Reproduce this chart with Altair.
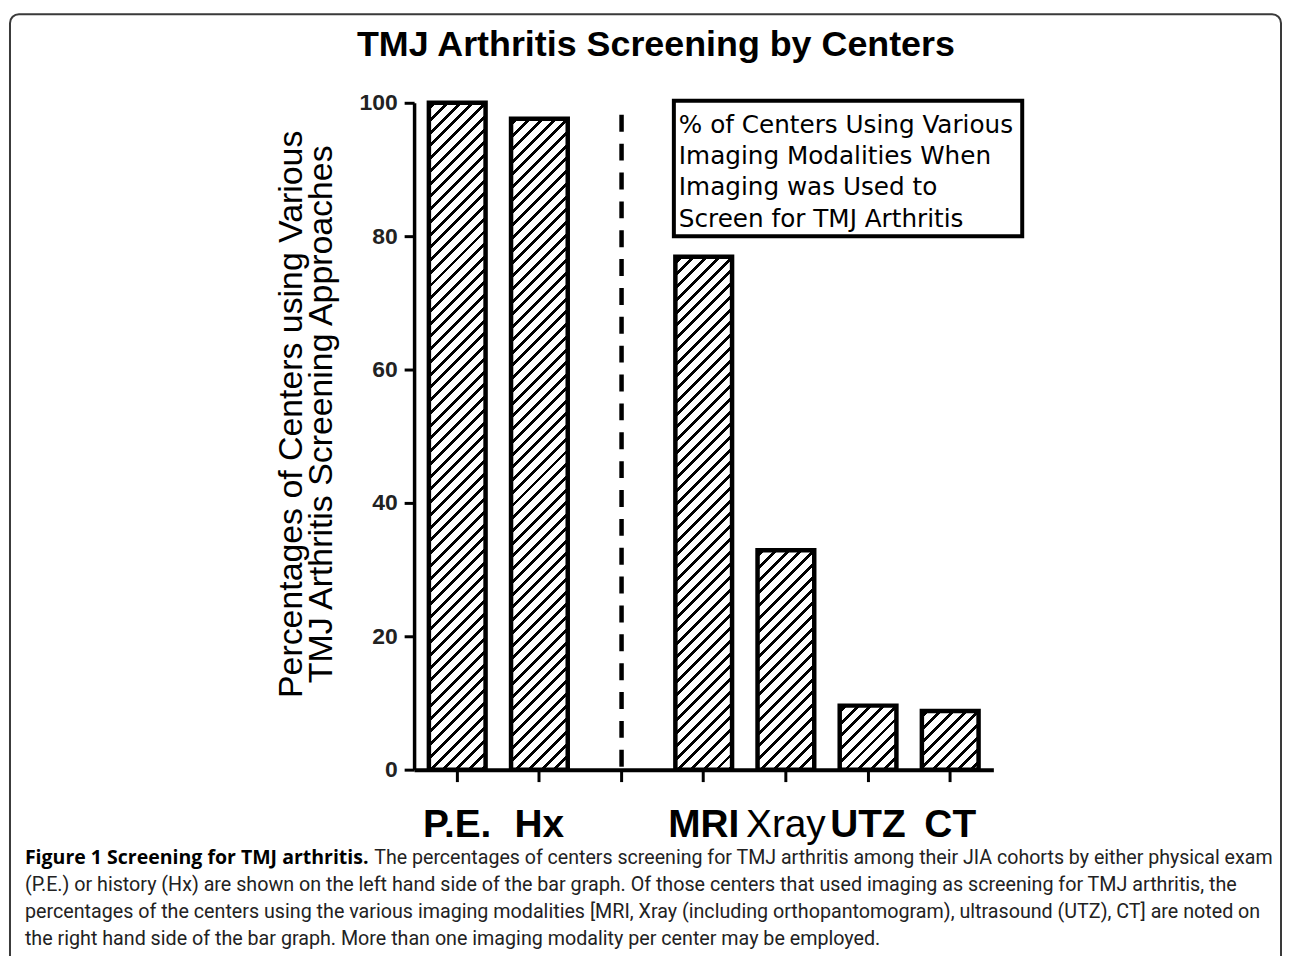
import altair as alt
import pandas as pd

# ---------------- data ----------------
TITLE = "TMJ Arthritis Screening by Centers"
CATEGORIES = ["P.E.", "Hx", " ", "MRI", "Xray", "UTZ", "CT"]
BAR_CATEGORIES = ["P.E.", "Hx", "MRI", "Xray", "UTZ", "CT"]
BAR_VALUES = [100.0, 97.6, 76.9, 32.9, 9.6, 8.8]
Y_TICKS = [0, 20, 40, 60, 80, 100]
SEPARATOR_CATEGORY = " "
SEPARATOR_TOP = 98.2
Y_TITLE = ["Percentages of Centers using Various", "TMJ Arthritis Screening Approaches"]
BOX_TEXT = ["% of Centers Using Various", "Imaging Modalities When",
            "Imaging was Used to", "Screen for TMJ Arthritis"]
CAPTION_BOLD = "Figure 1 Screening for TMJ arthritis."
CAPTION_FIRST_REST = ("The percentages of centers screening for TMJ arthritis among their JIA "
                      "cohorts by either physical exam")
CAPTION_LINES = [
    "(P.E.) or history (Hx) are shown on the left hand side of the bar graph. Of those centers "
    "that used imaging as screening for TMJ arthritis, the",
    "percentages of the centers using the various imaging modalities [MRI, Xray (including "
    "orthopantomogram), ultrasound (UTZ), CT] are noted on",
    "the right hand side of the bar graph. More than one imaging modality per center may be employed.",
]

# ---------------- layout / style ----------------
PLOT_W, PLOT_H = 582, 670
PAD_INNER, PAD_OUTER = 0.31, 0.18
STEP = PLOT_W / (len(CATEGORIES) - PAD_INNER + 2 * PAD_OUTER)
BAND_W = STEP * (1 - PAD_INNER)


def hatch(w, h, period=12.8, thick=4.0):
    """Diagonal '/' hatch as a hard-stop linear gradient for a w x h bar."""
    L = w + h
    stops = [alt.GradientStop(color="white", offset=0)]
    c = 4.0
    while c + thick < L:
        a = round(c / L, 6)
        b = round((c + thick) / L, 6)
        stops += [alt.GradientStop(color="white", offset=a),
                  alt.GradientStop(color="black", offset=a),
                  alt.GradientStop(color="black", offset=b),
                  alt.GradientStop(color="white", offset=b)]
        c += period
    stops.append(alt.GradientStop(color="white", offset=1))
    k = L / (w * w + h * h)
    return alt.LinearGradient(gradient="linear", stops=stops,
                              x1=0, y1=0, x2=round(w * k, 6), y2=round(h * k, 6))


bars = pd.DataFrame({"cat": BAR_CATEGORIES, "value": BAR_VALUES})
one = pd.DataFrame({"k": [0]})

x_scale = alt.Scale(domain=CATEGORIES, paddingInner=PAD_INNER, paddingOuter=PAD_OUTER)
y_scale = alt.Scale(domain=[0, 100], nice=False)

x_axis = alt.Axis(title=None, labelAngle=0, labelFont="Liberation Sans", labelFontSize=39,
                  labelFontWeight={"condition": {"test": "datum.value === 'Xray'",
                                                 "value": "normal"}, "value": "bold"},
                  labelColor="black", labelPadding=24, labelBaseline="top",
                  tickSize=12, tickWidth=3, tickColor="black", domainColor="black",
                  domainWidth=4, labelOverlap=False)
y_axis = alt.Axis(title=None, values=Y_TICKS, grid=False, labelFont="Liberation Sans",
                  labelFontSize=23, labelFontWeight="bold", labelColor="#222222",
                  labelPadding=7, tickSize=10, tickWidth=3, tickColor="black",
                  domainColor="black", domainWidth=3.5)

frame = alt.Chart(one).mark_rect(fillOpacity=0, stroke="#3a3a3a", strokeWidth=2,
                                 cornerRadius=9).encode(
    x=alt.value(-406), x2=alt.value(871), y=alt.value(-89), y2=alt.value(900))

bar_layers = []
for cat, val in zip(BAR_CATEGORIES, BAR_VALUES):
    h = val / 100 * PLOT_H
    bar_layers.append(
        alt.Chart(bars).transform_filter(alt.datum.cat == cat)
        .mark_bar(fill=hatch(BAND_W, h), stroke="black", strokeWidth=4.5)
        .encode(x=alt.X("cat:N", scale=x_scale, axis=x_axis),
                y=alt.Y("value:Q", scale=y_scale, axis=y_axis))
    )

sep = alt.Chart(pd.DataFrame({"cat": [SEPARATOR_CATEGORY], "top": [SEPARATOR_TOP],
                              "bottom": [0]})).mark_rule(
    strokeDash=[17, 12], strokeWidth=4.5, color="black").encode(
    x=alt.X("cat:N", scale=x_scale, axis=x_axis),
    y=alt.Y("top:Q", scale=y_scale, axis=y_axis),
    y2="bottom:Q")

box = alt.Chart(one).mark_rect(fill="white", stroke="black", strokeWidth=4).encode(
    x=alt.value(261), x2=alt.value(611), y=alt.value(-2), y2=alt.value(134))

box_text = alt.Chart(one).mark_text(align="left", baseline="alphabetic", font="DejaVu Sans",
                                    fontSize=24.8, lineHeight=31.5, color="black").encode(
    x=alt.value(266), y=alt.value(30), text=alt.value(BOX_TEXT))

title = alt.Chart(one).mark_text(align="center", baseline="alphabetic", font="Liberation Sans",
                                 fontSize=36, fontWeight="bold", color="black").encode(
    x=alt.value(243), y=alt.value(-47), text=alt.value(TITLE))

y_title = alt.Chart(one).mark_text(align="center", baseline="middle", angle=270,
                                   font="Liberation Sans", fontSize=34, lineHeight=31,
                                   color="black").encode(
    x=alt.value(-123), y=alt.value(313), text=alt.value(Y_TITLE))

CAP_FONT = "Roboto"
cap_layers = [
    alt.Chart(one).mark_text(align="left", baseline="alphabetic", font="Open Sans",
                             fontSize=19.6, fontWeight="bold", color="black").encode(
        x=alt.value(-391), y=alt.value(765), text=alt.value(CAPTION_BOLD)),
    alt.Chart(one).mark_text(align="left", baseline="alphabetic", font=CAP_FONT,
                             fontSize=19.7, color="#222222").encode(
        x=alt.value(-40), y=alt.value(765), text=alt.value(CAPTION_FIRST_REST)),
]
for i, line in enumerate(CAPTION_LINES):
    cap_layers.append(
        alt.Chart(one).mark_text(align="left", baseline="alphabetic", font=CAP_FONT,
                                 fontSize=19.8, color="#222222").encode(
            x=alt.value(-391), y=alt.value(792 + 27 * i), text=alt.value(line)))

chart = alt.layer(frame, *bar_layers, sep, box, box_text, title, y_title, *cap_layers).properties(
    width=PLOT_W, height=PLOT_H,
    autosize=alt.AutoSizeParams(type="none"),
    padding={"left": 408, "top": 93, "right": 290, "bottom": 185},
).configure_view(strokeWidth=0)

chart.save("out.html", embed_options={"renderer": "svg", "actions": False})
